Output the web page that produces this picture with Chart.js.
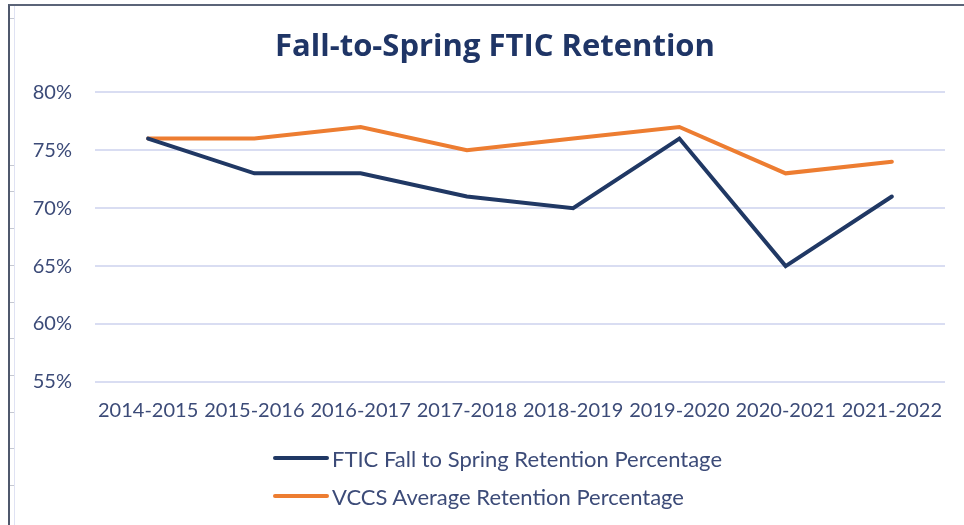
<!DOCTYPE html>
<html>
<head>
<meta charset="utf-8">
<script src="https://cdn.jsdelivr.net/npm/chart.js@4.4.1/dist/chart.umd.min.js"></script>
<style>
  html, body { margin: 0; padding: 0; background: #fff; }
  #wrap { position: relative; width: 964px; height: 525px; overflow: hidden; }
  #frame { position: absolute; left: 8px; top: 4px; width: 1000px; height: 600px;
           border-left: 2px solid #4f586c; border-top: 2px solid #5b6478; }
  #inner { position: absolute; left: 14px; top: 6px; width: 1px; height: 600px; background: #dfe2f3; }
  .tick { position: absolute; left: 10px; width: 4px; height: 1px; background: #c5c8d2; }
  #chart { position: absolute; left: 0; top: 0; }
  .legend-row { position: absolute; left: 273px; height: 26px; display: flex; align-items: center;
                font-family: Lato, sans-serif; font-size: 22px; color: #3c4b78; }
  .legend-row .swatch { width: 56px; height: 4px; border-radius: 2px; margin-right: 3px; }
</style>
</head>
<body>
<div id="wrap">
  <div id="frame"></div>
  <div id="inner"></div>
  <canvas id="chart" width="964" height="525"></canvas>
  <div id="legend"></div>
</div>
<script>
const years = ['2014-2015', '2015-2016', '2016-2017', '2017-2018', '2018-2019', '2019-2020', '2020-2021', '2021-2022'];
const ftic = [76, 73, 73, 71, 70, 76, 65, 71];
const vccs = [76, 76, 77, 75, 76, 77, 73, 74];
const seriesNames = ['FTIC Fall to Spring Retention Percentage', 'VCCS Average Retention Percentage'];
const seriesColors = ['#203864', '#ed7d31'];
const yTicks = [55, 60, 65, 70, 75, 80];

const textColor = '#3c4b78';

// little ruler marks on the left edge of the frame
[18, 165, 191, 228, 265, 302, 338, 375, 412, 448, 485].forEach(y => {
    const t = document.createElement('div');
    t.className = 'tick';
    t.style.top = y + 'px';
    document.getElementById('wrap').appendChild(t);
});

// the original title sits a bit right of the canvas centre
const shiftTitle = {
    id: 'shiftTitle',
    afterLayout(chart) {
        if (chart.titleBlock) {
            chart.titleBlock.left = 45;
            chart.titleBlock.right = 945;
        }
    }
};

const chart = new Chart(document.getElementById('chart'), {
    type: 'line',
    data: {
        labels: years,
        datasets: [
            { label: seriesNames[0], data: ftic, borderColor: seriesColors[0], backgroundColor: seriesColors[0] },
            { label: seriesNames[1], data: vccs, borderColor: seriesColors[1], backgroundColor: seriesColors[1] }
        ]
    },
    plugins: [shiftTitle],
    options: {
        responsive: false,
        animation: false,
        layout: { padding: { left: 0, right: 19, top: 0, bottom: 93 } },
        elements: {
            line: { borderWidth: 4, tension: 0, borderCapStyle: 'round', borderJoinStyle: 'miter' },
            point: { radius: 0, hoverRadius: 0 }
        },
        plugins: {
            legend: { display: false },
            tooltip: { enabled: false },
            title: {
                display: true,
                text: 'Fall-to-Spring FTIC Retention',
                color: '#1f3566',
                font: { family: 'Open Sans', size: 31, weight: 'bold' },
                padding: { top: 29, bottom: 26 }
            }
        },
        scales: {
            x: {
                offset: true,
                grid: { display: false },
                border: { display: false },
                ticks: {
                    color: textColor, font: { family: 'Lato', size: 20 },
                    maxRotation: 0, autoSkip: false, padding: 9
                }
            },
            y: {
                min: 55, max: 80,
                afterFit: s => { s.width = 95; },
                afterBuildTicks: s => { s.ticks = yTicks.map(v => ({ value: v })); },
                grid: { color: '#d9ddf2', lineWidth: 2, drawTicks: false },
                border: { display: false },
                ticks: {
                    color: textColor, font: { family: 'Lato', size: 20 }, padding: 23,
                    callback: v => v + '%'
                }
            }
        }
    }
});

const legend = document.getElementById('legend');
const legendTops = [445, 483];
seriesNames.forEach((name, i) => {
    const row = document.createElement('div');
    row.className = 'legend-row';
    row.style.top = legendTops[i] + 'px';
    row.innerHTML = `<span class="swatch" style="background:${seriesColors[i]}"></span><span>${name}</span>`;
    legend.appendChild(row);
});
</script>
</body>
</html>
